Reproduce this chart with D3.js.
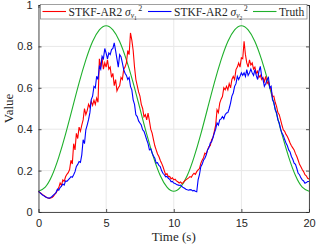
<!DOCTYPE html>
<meta charset="utf-8">
<script src="https://cdn.jsdelivr.net/npm/d3@7"></script>
<style>
body { margin: 0; background: #fff; }
text { fill: #262626; }
.tick text { font: 11px "Liberation Sans", Arial, sans-serif; }
.lab { font: 13px "Liberation Serif", "DejaVu Serif", serif; }
.leg { font: 11.5px "Liberation Serif", "DejaVu Serif", serif; }
</style>
<body>
<script>

// values, t = 0 .. 20 step 0.1
var redVals = [
  0.100, 0.094, 0.090, 0.084, 0.080, 0.075, 0.070, 0.068, 0.066, 0.068, 0.070,
  0.076, 0.085, 0.092, 0.105, 0.118, 0.140, 0.128, 0.155, 0.148, 0.170,
  0.182, 0.190, 0.205, 0.250, 0.232, 0.330, 0.300, 0.380, 0.355, 0.410,
  0.390, 0.420, 0.445, 0.500, 0.470, 0.490, 0.520, 0.505, 0.535, 0.515,
  0.540, 0.520, 0.550, 0.530, 0.740, 0.700, 0.745, 0.690, 0.720, 0.700,
  0.735, 0.690, 0.700, 0.650, 0.670, 0.610, 0.640, 0.585, 0.600, 0.610,
  0.650, 0.640, 0.690, 0.700, 0.720, 0.780, 0.760, 0.865, 0.830, 0.780,
  0.700, 0.640, 0.610, 0.580, 0.560, 0.520, 0.500, 0.460, 0.470, 0.445,
  0.478, 0.440, 0.400, 0.381, 0.350, 0.320, 0.300, 0.280, 0.268, 0.250,
  0.236, 0.220, 0.200, 0.180, 0.185, 0.170, 0.172, 0.160, 0.165, 0.155,
  0.158, 0.150, 0.146, 0.140, 0.145, 0.138, 0.142, 0.150, 0.155, 0.160,
  0.165, 0.171, 0.168, 0.180, 0.187, 0.182, 0.195, 0.203, 0.210, 0.235,
  0.250, 0.262, 0.284, 0.280, 0.300, 0.316, 0.320, 0.349, 0.360, 0.390,
  0.420, 0.494, 0.480, 0.526, 0.545, 0.558, 0.600, 0.590, 0.607, 0.590,
  0.620, 0.600, 0.640, 0.655, 0.640, 0.688, 0.700, 0.720, 0.700, 0.745,
  0.740, 0.825, 0.760, 0.720, 0.700, 0.735, 0.710, 0.720, 0.690, 0.700,
  0.670, 0.680, 0.650, 0.660, 0.640, 0.650, 0.630, 0.655, 0.620, 0.630,
  0.607, 0.590, 0.558, 0.560, 0.530, 0.510, 0.480, 0.470, 0.445, 0.420,
  0.397, 0.390, 0.375, 0.365, 0.350, 0.333, 0.320, 0.310, 0.300, 0.282,
  0.268, 0.250, 0.230, 0.219, 0.205, 0.195, 0.180, 0.175, 0.163, 0.160
];

var blueVals = [
  0.100, 0.094, 0.088, 0.082, 0.078, 0.074, 0.070, 0.068, 0.067, 0.070, 0.075,
  0.082, 0.088, 0.095, 0.110, 0.105, 0.118, 0.125, 0.135, 0.130, 0.150,
  0.148, 0.155, 0.162, 0.171, 0.168, 0.180, 0.195, 0.220, 0.230, 0.244,
  0.240, 0.276, 0.349, 0.330, 0.397, 0.420, 0.446, 0.480, 0.543, 0.560,
  0.607, 0.600, 0.656, 0.640, 0.704, 0.690, 0.752, 0.740, 0.790, 0.768,
  0.740, 0.768, 0.760, 0.785, 0.790, 0.817, 0.780, 0.740, 0.700, 0.760,
  0.750, 0.720, 0.688, 0.670, 0.660, 0.640, 0.650, 0.607, 0.590, 0.542,
  0.520, 0.470, 0.461, 0.440, 0.430, 0.420, 0.397, 0.390, 0.370, 0.349,
  0.330, 0.300, 0.305, 0.285, 0.270, 0.260, 0.236, 0.238, 0.225, 0.220,
  0.200, 0.187, 0.180, 0.170, 0.172, 0.163, 0.158, 0.147, 0.148, 0.140,
  0.138, 0.133, 0.131, 0.128, 0.130, 0.123, 0.118, 0.115, 0.110, 0.107,
  0.105, 0.108, 0.107, 0.102, 0.104, 0.100, 0.098, 0.155, 0.180, 0.219,
  0.230, 0.250, 0.260, 0.275, 0.300, 0.310, 0.333, 0.340, 0.360, 0.381,
  0.400, 0.430, 0.420, 0.445, 0.450, 0.461, 0.450, 0.470, 0.478, 0.480,
  0.500, 0.526, 0.560, 0.575, 0.607, 0.620, 0.655, 0.640, 0.655, 0.672,
  0.660, 0.672, 0.655, 0.688, 0.660, 0.672, 0.690, 0.672, 0.660, 0.688,
  0.660, 0.640, 0.680, 0.704, 0.655, 0.640, 0.607, 0.620, 0.640, 0.650,
  0.600, 0.607, 0.542, 0.530, 0.494, 0.480, 0.445, 0.430, 0.400, 0.381,
  0.370, 0.350, 0.333, 0.320, 0.300, 0.290, 0.268, 0.255, 0.236, 0.230,
  0.210, 0.187, 0.180, 0.165, 0.155, 0.150, 0.139, 0.142, 0.147, 0.147
];

// truth, t = 0 .. 20 step 0.5
var truthVals = [
  0.100, 0.120, 0.176, 0.265, 0.376, 0.500, 0.624, 0.735, 0.824, 0.880,
  0.900, 0.880, 0.824, 0.735, 0.624, 0.500, 0.376, 0.265, 0.176, 0.120,
  0.100, 0.120, 0.176, 0.265, 0.376, 0.500, 0.624, 0.735, 0.824, 0.880,
  0.900, 0.880, 0.824, 0.735, 0.624, 0.500, 0.376, 0.265, 0.176, 0.120,
  0.100
];

var xTicks = [0, 5, 10, 15, 20];
var yTicks = [0, 0.2, 0.4, 0.6, 0.8, 1];

var width = 317, height = 247;
var margin = {left: 38.5, right: 8, top: 5, bottom: 35};

var svg = d3.select("body").append("svg")
    .attr("width", width)
    .attr("height", height);

var x = d3.scaleLinear().domain([0, 20]).range([margin.left, width - margin.right]);
var y = d3.scaleLinear().domain([0, 1]).range([height - margin.bottom, margin.top]);

// grid
svg.append("g").selectAll("line").data(xTicks).enter().append("line")
    .attr("x1", d => x(d)).attr("x2", d => x(d))
    .attr("y1", y(0)).attr("y2", y(1))
    .style("stroke", "#e8e8e8").style("stroke-width", 1);
svg.append("g").selectAll("line").data(yTicks).enter().append("line")
    .attr("x1", x(0)).attr("x2", x(20))
    .attr("y1", d => y(d)).attr("y2", d => y(d))
    .style("stroke", "#e8e8e8").style("stroke-width", 1);

var redData = redVals.map((v, i) => [i * 0.1, v]);
var blueData = blueVals.map((v, i) => [i * 0.1, v]);
var truthData = truthVals.map((v, i) => [i * 0.5, v]);

var line = d3.line().x(d => x(d[0])).y(d => y(d[1]));
var smooth = d3.line().x(d => x(d[0])).y(d => y(d[1])).curve(d3.curveNatural);

svg.append("path").datum(truthData).attr("d", smooth)
    .style("fill", "none").style("stroke", "#1fb02c").style("stroke-width", 1.1);
svg.append("path").datum(redData).attr("d", line)
    .style("fill", "none").style("stroke", "#ff0000").style("stroke-width", 1.1);
svg.append("path").datum(blueData).attr("d", line)
    .style("fill", "none").style("stroke", "#0000ff").style("stroke-width", 1.1);

// axes (box with inward ticks)
svg.append("g").attr("transform", "translate(0," + y(0) + ")")
    .call(d3.axisBottom(x).tickValues(xTicks).tickSizeInner(-3).tickSizeOuter(0).tickPadding(7));
svg.append("g").attr("transform", "translate(" + x(0) + ",0)")
    .call(d3.axisLeft(y).tickValues(yTicks).tickFormat(d3.format("")).tickSizeInner(-3).tickSizeOuter(0).tickPadding(6));
svg.append("g").attr("transform", "translate(0," + y(1) + ")")
    .call(d3.axisTop(x).tickValues(xTicks).tickSizeInner(-3).tickSizeOuter(0).tickFormat(""));
svg.append("g").attr("transform", "translate(" + x(20) + ",0)")
    .call(d3.axisRight(y).tickValues(yTicks).tickSizeInner(-3).tickSizeOuter(0).tickFormat(""));
svg.selectAll(".domain, .tick line").style("stroke", "#262626").style("stroke-width", 0.8);

svg.append("text").attr("class", "lab")
    .attr("x", (x(0) + x(20)) / 2).attr("y", 241)
    .attr("text-anchor", "middle").text("Time (s)");
svg.append("text").attr("class", "lab")
    .attr("transform", "translate(13," + ((y(0) + y(1)) / 2) + ") rotate(-90)")
    .attr("text-anchor", "middle").text("Value");

// legend
var leg = svg.append("g");
leg.append("rect").attr("x", 40.5).attr("y", 4.5).attr("width", 266.5).attr("height", 14.5)
    .style("fill", "#fff").style("stroke", "#8a8a8a").style("stroke-width", 0.8);

var items = [
  {color: "#ff0000", x0: 42.5, sub: "1"},
  {color: "#0000ff", x0: 148, sub: "2"},
  {color: "#1fb02c", x0: 253, sub: null}
];
items.forEach(function(it) {
  leg.append("line").attr("x1", it.x0).attr("x2", it.x0 + 23.5)
      .attr("y1", 11.5).attr("y2", 11.5)
      .style("stroke", it.color).style("stroke-width", 1.1);
  var t = leg.append("text").attr("class", "leg").attr("x", it.x0 + 26).attr("y", 15.5);
  if (it.sub) {
    t.append("tspan").text("STKF-AR2 ");
    t.append("tspan").style("font-style", "italic").text("\u03c3");
    t.append("tspan").attr("dy", 2.5).style("font-size", "7.5px").style("font-style", "italic").text("v");
    t.append("tspan").attr("dy", 1.5).style("font-size", "5.5px").text(it.sub);
    t.append("tspan").attr("dy", -9).attr("dx", 1.5).style("font-size", "8px").text("2");
  } else {
    t.text("Truth");
  }
});

</script>
</body>
</html>
